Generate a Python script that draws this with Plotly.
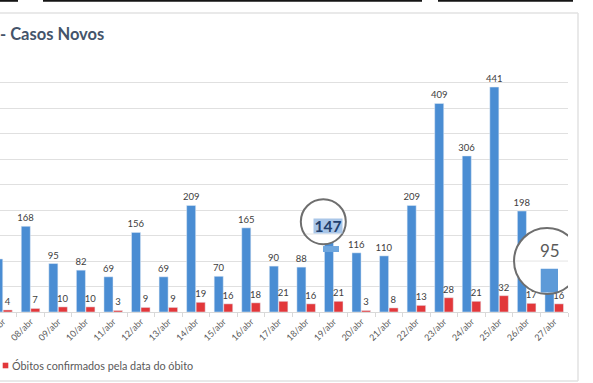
import plotly.graph_objects as go

# ---- data ----
dates = ["07/abr", "08/abr", "09/abr", "10/abr", "11/abr", "12/abr", "13/abr",
         "14/abr", "15/abr", "16/abr", "17/abr", "18/abr", "19/abr", "20/abr",
         "21/abr", "22/abr", "23/abr", "24/abr", "25/abr", "26/abr", "27/abr"]
casos_novos = [104, 168, 95, 82, 69, 156, 69, 209, 70, 165, 90, 88, 147, 116,
               110, 209, 409, 306, 441, 198, 95]
obitos = [4, 7, 10, 10, 3, 9, 9, 19, 16, 18, 21, 16, 21, 3, 8, 13, 28, 21,
          32, 17, 16]
lensed_dates = ["19/abr", "27/abr"]   # labels shown magnified
title_text = "- Casos Novos"
legend_text = "Óbitos confirmados pela data do óbito"

# ---- layout constants (pixels) ----
W, H = 593, 383
ML, MR, MT, MB = 0, 25, 57, 71
PW = W - ML - MR
PH = H - MT - MB
FONT = "Lato"
BLUE = "#4a8dd3"
RED = "#e2373a"


def px(x):
    return (x - ML) / PW


def py(y):
    return (H - MB - y) / PH


blue_text = ["" if d in lensed_dates else str(v) for d, v in zip(dates, casos_novos)]

fig = go.Figure()
fig.add_trace(go.Bar(
    x=dates, y=casos_novos, name="Casos novos", marker_color=BLUE,
    text=blue_text, texttemplate="%{text}", textposition="outside",
    constraintext="none",
    textfont=dict(size=9.5, color="#404040", family=FONT), cliponaxis=False,
    showlegend=False))
fig.add_trace(go.Bar(
    x=dates, y=obitos, name=legend_text, marker_color=RED,
    texttemplate="%{y}", textposition="outside", constraintext="none",
    textfont=dict(size=9.5, color="#404040", family=FONT), cliponaxis=False,
    showlegend=False))

shapes = []
annotations = []

# card frame
frame = "#e2e2e2"
shapes.append(dict(type="line", xref="paper", yref="paper", x0=px(0), x1=px(578),
                   y0=py(13), y1=py(13), line=dict(color=frame, width=1.5)))
shapes.append(dict(type="line", xref="paper", yref="paper", x0=px(578), x1=px(578),
                   y0=py(13), y1=py(381), line=dict(color=frame, width=1.5)))
shapes.append(dict(type="line", xref="paper", yref="paper", x0=px(0), x1=px(578),
                   y0=py(381), y1=py(381), line=dict(color=frame, width=1.5)))
# dark strips at top edge of screenshot
for a, b in [(0, 18), (43, 422), (438, 573)]:
    shapes.append(dict(type="line", xref="paper", yref="paper", x0=px(a), x1=px(b),
                       y0=py(0.8), y1=py(0.8), line=dict(color="#151515", width=2)))

# legend swatch + text
shapes.append(dict(type="rect", xref="paper", yref="paper", x0=px(2.7), x1=px(8.3),
                   y0=py(368.3), y1=py(362.7), fillcolor=RED, line=dict(width=0)))
annotations.append(dict(xref="paper", yref="paper", x=px(9.5), y=py(365.5),
                        xanchor="left", yanchor="middle", showarrow=False,
                        text=legend_text,
                        font=dict(size=10.8, color="#595959", family=FONT)))
# title
annotations.append(dict(xref="paper", yref="paper", x=px(-2), y=py(34),
                        xanchor="left", yanchor="middle", showarrow=False,
                        text="<b>" + title_text + "</b>",
                        font=dict(size=16.5, color="#44546a", family=FONT)))

# ---- magnifier lenses anchored to data ----
def lens(cat, val, cx, cy, r):
    common = dict(xref="x", yref="y", xsizemode="pixel", ysizemode="pixel",
                  xanchor=cat, yanchor=val, layer="above")
    shapes.append(dict(type="circle", x0=cx - r, x1=cx + r, y0=cy - r, y1=cy + r,
                       fillcolor="white", line=dict(width=0), **common))
    return common

# 19/abr lens (values relative to category centre / bar top, pixels, up positive)
i19 = dates.index("19/abr")
c = lens(dates[i19], casos_novos[i19], -10.4, 15.3, 22.5)
shapes.append(dict(type="line", x0=-29, x1=8, y0=3, y1=3,
                   line=dict(color="#e4e4e4", width=1), **c))
shapes.append(dict(type="rect", x0=-10.7, x1=5.3, y0=-9, y1=-15,
                   fillcolor="#6ea6de", line=dict(width=0), **c))
shapes.append(dict(type="circle", x0=-10.4 - 22.5, x1=-10.4 + 22.5,
                   y0=15.3 - 22.5, y1=15.3 + 22.5, fillcolor="rgba(0,0,0,0)",
                   line=dict(color="#6e6e6e", width=2), **c))
annotations.append(dict(x=dates[i19], y=casos_novos[i19], xshift=-5.7, yshift=11.5,
                        showarrow=False, text="<b>%d</b>" % casos_novos[i19],
                        bgcolor="#a9c6e8", borderpad=0, width=28, height=14,
                        font=dict(size=15.5, color="#21406e", family=FONT)))

# 27/abr lens
i27 = dates.index("27/abr")
c = lens(dates[i27], casos_novos[i27], -7.2, 2.5, 33)
shapes.append(dict(type="line", x0=-39, x1=25, y0=2.5, y1=2.5,
                   line=dict(color="#e4e4e4", width=1), **c))
shapes.append(dict(type="rect", x0=-13.5, x1=3.8, y0=-5.2, y1=-29,
                   fillcolor="#5d9ad8", line=dict(width=0), **c))
shapes.append(dict(type="circle", x0=-7.2 - 33, x1=-7.2 + 33, y0=2.5 - 33,
                   y1=2.5 + 33, fillcolor="rgba(0,0,0,0)",
                   line=dict(color="#6e6e6e", width=2), **c))
annotations.append(dict(x=dates[i27], y=casos_novos[i27], xshift=-4.5, yshift=13,
                        showarrow=False, text="%d" % casos_novos[i27],
                        font=dict(size=17, color="#5a5a5a", family=FONT)))

fig.update_layout(
    width=W, height=H,
    margin=dict(l=ML, r=MR, t=MT, b=MB, pad=0),
    paper_bgcolor="white", plot_bgcolor="white",
    barmode="group", bargap=0.31, bargroupgap=0.05,
    showlegend=False,
    shapes=shapes, annotations=annotations,
    font=dict(family=FONT),
    xaxis=dict(type="category", range=[-0.108, len(dates) - 0.5],
               tickangle=-45, tickfont=dict(size=9, color="#595959", family=FONT),
               showline=True, linecolor="#d9d9d9", linewidth=1,
               ticks="outside", tickson="boundaries", ticklen=4,
               tickcolor="#d9d9d9", showgrid=False, automargin=False),
    yaxis=dict(range=[0, 500], dtick=50, showticklabels=False,
               showgrid=True, gridcolor="#e0e0e0", gridwidth=1,
               zeroline=False, automargin=False),
)

fig.write_html("out.html",
               config={"displayModeBar": False},
               post_script="document.body.style.margin='0px';"
                           "document.body.style.overflow='hidden';")
